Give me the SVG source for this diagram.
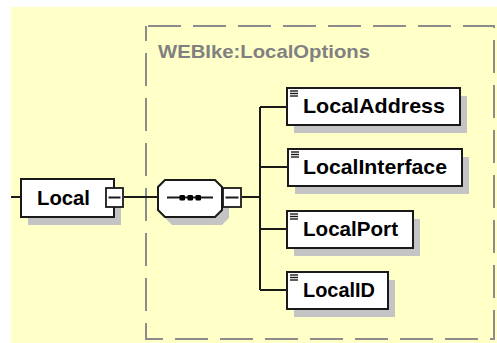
<svg xmlns="http://www.w3.org/2000/svg" width="497" height="343" viewBox="0 0 497 343">
  <style>
    .bg { fill: #FFFFC8; }
    .group-frame { fill: none; stroke: #8C8C8C; stroke-width: 2; stroke-dasharray: 33 12; }
    .group-label { font-family: "Liberation Sans", Arial, sans-serif; font-weight: bold; font-size: 18.5px; fill: #808080; }
    .shadow { fill: #C4C4C4; }
    .box { fill: #FFFFFF; stroke: #1A1A1A; stroke-width: 2; }
    .name { font-family: "Liberation Sans", Arial, sans-serif; font-weight: bold; font-size: 21px; fill: #000000; }
    .wire { fill: none; stroke: #1A1A1A; stroke-width: 2; }
    .toggle { fill: #FFFFFF; stroke: #1A1A1A; stroke-width: 1.8; }
    .minus { stroke: #1A1A1A; stroke-width: 2; }
    .icon { stroke: #1A1A1A; stroke-width: 1.4; }
  </style>

  <rect class="bg" x="11" y="7" width="486" height="336"/>

  <!-- complex type group frame -->
  <g id="type-frame">
    <path class="group-frame" d="M148,26 H494 V339 H146 V26"/>
    <text class="group-label" x="158" y="58" textLength="212" lengthAdjust="spacingAndGlyphs">WEBIke:LocalOptions</text>
  </g>

  <!-- connectors -->
  <g id="connectors">
    <path class="wire" d="M11,197 H21"/>
    <path class="wire" d="M124,197 H158"/>
    <path class="wire" d="M242,197 H260"/>
    <path class="wire" d="M260,107 V290"/>
    <path class="wire" d="M260,107 H287"/>
    <path class="wire" d="M260,167 H288"/>
    <path class="wire" d="M260,229 H287"/>
    <path class="wire" d="M260,290 H287"/>
  </g>

  <!-- element Local -->
  <g id="node-local">
    <rect class="shadow" x="28" y="187" width="93" height="38"/>
    <rect class="box" x="21" y="179" width="93" height="38"/>
    <text class="name" x="37" y="205" textLength="53" lengthAdjust="spacingAndGlyphs">Local</text>
    <rect class="toggle" x="106" y="188" width="17" height="19"/>
    <line class="minus" x1="108.5" y1="197.5" x2="120.5" y2="197.5"/>
  </g>

  <!-- sequence compositor -->
  <g id="node-sequence">
    <path class="shadow" d="M172,188 H222 L229,195 V218 L222,225 H172 L165,218 V195 Z"/>
    <path class="box" d="M165,180 H215 L222,187 V210 L215,217 H165 L158,210 V187 Z"/>
    <line class="wire" x1="167" y1="197.5" x2="213" y2="197.5"/>
    <rect x="179.5" y="195" width="5.5" height="5.5" rx="1.2" fill="#000"/>
    <rect x="187.5" y="195" width="5.5" height="5.5" rx="1.2" fill="#000"/>
    <rect x="195.5" y="195" width="5.5" height="5.5" rx="1.2" fill="#000"/>
    <rect class="toggle" x="223" y="188" width="18" height="19"/>
    <line class="minus" x1="225.5" y1="197.5" x2="238.5" y2="197.5"/>
  </g>

  <!-- element LocalAddress -->
  <g id="node-localaddress">
    <rect class="shadow" x="294" y="96" width="173" height="37"/>
    <rect class="box" x="287" y="88" width="173" height="37"/>
    <g class="icon"><line x1="290" y1="91" x2="298" y2="91"/><line x1="290" y1="93.5" x2="298" y2="93.5"/><line x1="290" y1="96" x2="298" y2="96"/></g>
    <text class="name" x="303" y="113" textLength="142" lengthAdjust="spacingAndGlyphs">LocalAddress</text>
  </g>

  <!-- element LocalInterface -->
  <g id="node-localinterface">
    <rect class="shadow" x="295" y="157" width="174" height="37"/>
    <rect class="box" x="288" y="149" width="174" height="37"/>
    <g class="icon"><line x1="291" y1="152" x2="299" y2="152"/><line x1="291" y1="154.5" x2="299" y2="154.5"/><line x1="291" y1="157" x2="299" y2="157"/></g>
    <text class="name" x="303" y="174" textLength="144" lengthAdjust="spacingAndGlyphs">LocalInterface</text>
  </g>

  <!-- element LocalPort -->
  <g id="node-localport">
    <rect class="shadow" x="294" y="219" width="126" height="37"/>
    <rect class="box" x="287" y="211" width="126" height="37"/>
    <g class="icon"><line x1="290" y1="214" x2="298" y2="214"/><line x1="290" y1="216.5" x2="298" y2="216.5"/><line x1="290" y1="219" x2="298" y2="219"/></g>
    <text class="name" x="303" y="236" textLength="95" lengthAdjust="spacingAndGlyphs">LocalPort</text>
  </g>

  <!-- element LocalID -->
  <g id="node-localid">
    <rect class="shadow" x="294" y="280" width="101" height="37"/>
    <rect class="box" x="287" y="272" width="101" height="37"/>
    <g class="icon"><line x1="290" y1="275" x2="298" y2="275"/><line x1="290" y1="277.5" x2="298" y2="277.5"/><line x1="290" y1="280" x2="298" y2="280"/></g>
    <text class="name" x="303" y="297" textLength="72" lengthAdjust="spacingAndGlyphs">LocalID</text>
  </g>
</svg>
